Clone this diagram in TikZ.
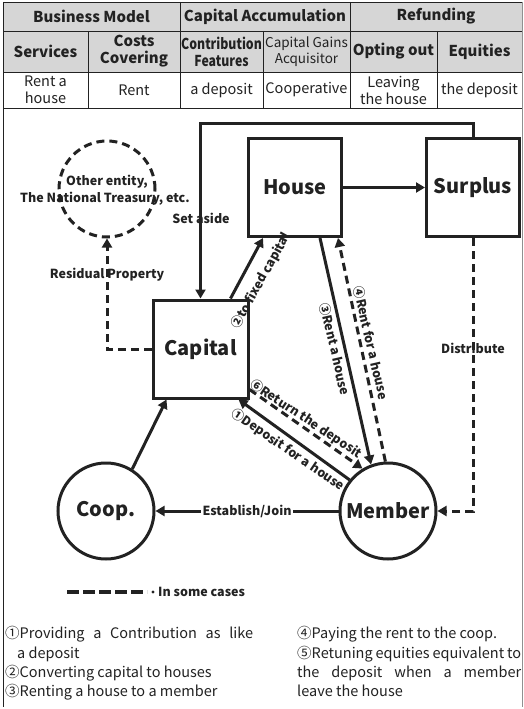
\documentclass[tikz,border=0pt]{standalone}
\usepackage{fontspec}
\setmainfont{Noto Sans CJK KR}
\usetikzlibrary{arrows.meta}

\definecolor{ink}{RGB}{34,34,34}
\definecolor{hdr}{RGB}{214,214,214}

\tikzset{
  rule/.style={draw=ink, line width=0.9pt},
  hcell/.style={align=center, font=\fontsize{15}{17}\selectfont\bfseries, text=ink},
  bcell/.style={align=center, font=\fontsize{14.5}{17}\selectfont, text=ink},
  sqbox/.style={draw=ink, line width=3pt, minimum width=93pt, minimum height=98pt,
    font=\fontsize{20}{24}\selectfont\bfseries, text=ink},
  ring/.style={draw=ink, circle, line width=3pt, minimum size=96pt, inner sep=0pt,
    font=\fontsize{20}{24}\selectfont\bfseries, text=ink},
  arr/.style={draw=ink, line width=3pt, -{Triangle[length=9pt,width=10pt]}},
  dsh/.style={arr, dash pattern=on 8pt off 5pt},
  lbl/.style={font=\fontsize{12.5}{15}\selectfont\bfseries, text=ink, inner sep=1pt},
  note/.style={font=\fontsize{14.5}{18}\selectfont, text=ink, anchor=base west, inner sep=0pt}
}

\begin{document}
\begin{tikzpicture}[x=1pt,y=-1pt]
\useasboundingbox (0,0) rectangle (524,709);
\fill[white] (0,0) rectangle (524,709);

% ---------- table ----------
\fill[hdr] (3,2) rectangle (522,72);
\foreach \yy in {2,31,72,108} \draw[rule] (3,\yy) -- (522,\yy);
\foreach \xx in {180,350} \draw[rule] (\xx,2) -- (\xx,31);
\foreach \xx in {88,180,263,350,437} \draw[rule] (\xx,31) -- (\xx,108);
\draw[rule] (3,2) -- (3,707);
\draw[draw=ink!50, line width=0.6pt] (522,2) -- (522,707);

\node[hcell] (hbm) at (91.5,16.5) {Business Model};
\node[hcell] (hca) at (265,16.5) {Capital Accumulation};
\node[hcell] (hrf) at (436,16.5) {Refunding};

\node[hcell] (hsv) at (45.5,51.5) {Services};
\node[hcell] (hcc) at (134,51.5) {Costs\\Covering};
\node[hcell] (hcf) at (221.5,51.5) {\scalebox{0.82}[1]{Contribution}\\\scalebox{0.82}[1]{Features}};
\node[bcell, font=\fontsize{13.5}{16}\selectfont] (hcg) at (306.5,51.5) {Capital Gains\\Acquisitor};
\node[hcell] (hop) at (393.5,51.5) {Opting out};
\node[hcell] (heq) at (479.5,51.5) {Equities};

\node[bcell] (crh) at (45.5,90) {Rent a\\house};
\node[bcell] (crn) at (134,90) {Rent};
\node[bcell] (cdp) at (221.5,90) {a deposit};
\node[bcell] (cco) at (306.5,90) {Cooperative};
\node[bcell] (clv) at (393.5,90) {Leaving\\the house};
\node[bcell] (ceq) at (479.5,90) {the deposit};

% ---------- diagram nodes ----------
\node[sqbox] (house) at (295,187.5) {House};
\node[sqbox] (surplus) at (473,187.5) {Surplus};
\node[sqbox, minimum width=95pt] (capital) at (200.5,349) {Capital};
\node[ring, dash pattern=on 8pt off 5pt] (other) at (107,189) {};
\node[ring] (coop) at (106,511) {Coop.};
\node[ring] (member) at (388,511) {Member};

\node[lbl] (oth1) at (107,182) {Other entity,};
\node[lbl] (oth2) at (105,199) {The National Treasury, etc.};

% ---------- connectors ----------
\coordinate (loop) at (473,123);
\draw[arr] (surplus.north) -- (loop) -| (capital.north);
\draw[arr] (house.east) -- (surplus.west);
\draw[arr] ([xshift=30pt]capital.north) -- ([xshift=-32pt]house.south);
\draw[arr] ([xshift=25pt]house.south) -- (member.110);
\draw[dsh] (member.93) -- ([xshift=-5pt]house.south east);
\draw[arr] (member.141) -- ([xshift=-11pt]capital.south east);
\draw[dsh] ([yshift=10pt]capital.south east) -- (member.121);
\draw[arr] (coop.58) -- ([xshift=15pt]capital.south west);
\draw[arr] (member.west) -- node[lbl, fill=white, inner sep=2pt] (estj) {Establish/Join} (coop.east);
\draw[dsh] (surplus.south) |- (member.east);
\draw[dsh] (capital.west) -| (other.south);

% ---------- connector labels ----------
\node[lbl] (setaside) at (201,218) {Set aside};
\node[lbl] (resid) at (107,275) {Residual Property};
\node[lbl] (distr) at (473,348) {Distribute};
\node[lbl, rotate=61] (l2) at (261,281) {②to fixed capital};
\node[lbl, rotate=-77] (l3) at (335,349) {③Rent a house};
\node[lbl, rotate=-77] (l4) at (371,343) {④Rent for a house};
\node[lbl, rotate=-33.5] (l6) at (306,419) {⑥Return the deposit};
\node[lbl, rotate=-34.3] (l1) at (288,450) {①Deposit for a house};

% ---------- legend ----------
\coordinate (lga) at (67,592);
\coordinate (lgb) at (147,592);
\draw[draw=ink, line width=3.5pt, dash pattern=on 12pt off 4pt] (lga) -- (lgb);
\fill[ink] (153,592) circle (1.6pt);
\node[lbl, anchor=west] (lgt) at (157,592) {In some cases};

% ---------- notes ----------
\node[note] (n1) at (5,638) {\makebox[248pt][s]{①Providing a Contribution as like}};
\node[note] (n1b) at (17,658) {a deposit};
\node[note] (n2) at (5,677) {②Converting capital to houses};
\node[note] (n3) at (5,696) {③Renting a house to a member};
\node[note] (n4) at (297,638) {④Paying the rent to the coop.};
\node[note] (n5) at (297,658) {\makebox[224pt][s]{⑤Retuning equities equivalent to}};
\node[note] (n5b) at (297,677) {\makebox[224pt][s]{the deposit when a member}};
\node[note] (n5c) at (297,696) {leave the house};
\end{tikzpicture}
\end{document}
